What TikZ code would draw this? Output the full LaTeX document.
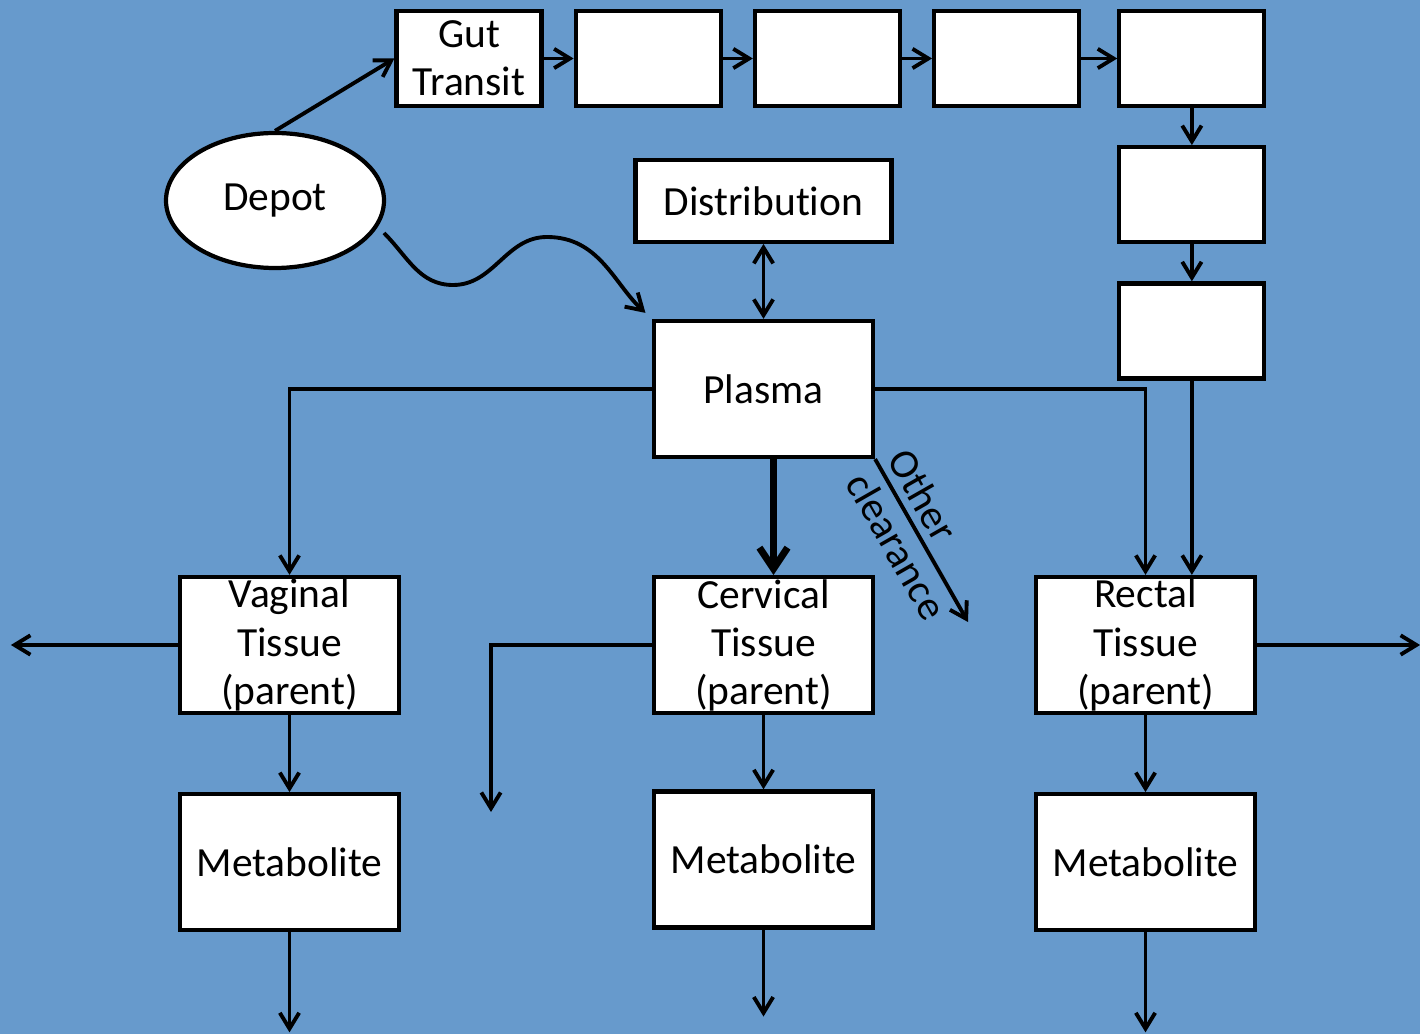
\documentclass[tikz,border=0pt]{standalone}
\usepackage{fontspec}
\setmainfont[Ligatures=NoCommon]{Carlito}
\usetikzlibrary{positioning,arrows.meta,shapes.geometric}
\definecolor{bgblue}{RGB}{103,154,204}

\begin{document}
\begin{tikzpicture}[line width=1.1pt, >={Straight Barb[length=4.5pt,width=5.5pt]},
  font=\fontsize{11.8}{13.7}\selectfont,
  box/.style = {draw, fill=white, line width=1.2pt, inner sep=0pt, align=center, minimum width=21.9mm, minimum height=13.6mm},
  small/.style = {box, minimum width=14.5mm, minimum height=9.5mm}]
\path[use as bounding box, fill=bgblue] (0,0) rectangle (14.2,-10.34);
\node[small] (gut) at (4.69,-0.585) {Gut\\Transit};
\node[small] (g2) [right=3mm of gut] {};
\node[small] (g3) [right=3mm of g2] {};
\node[small] (g4) [right=3mm of g3] {};
\node[small] (g5) [right=3.6mm of g4] {};
\node[small] (g6) [below=3.7mm of g5] {};
\node[small] (g7) [below=3.7mm of g6] {};
\node[draw, ellipse, fill=white, line width=1.2pt, inner sep=0pt, minimum width=21.8mm, minimum height=13.5mm] (depot) at (2.75,-2.005) {Depot};
\node[box] (plasma) at (7.635,-3.89) {Plasma};
\node[box, minimum width=25.6mm, minimum height=8.2mm] (dist) [above=7.5mm of plasma] {Distribution};
\node[box] (cervical) [below=11.6mm of plasma] {Cervical\\Tissue\\(parent)};
\node[box] (met2) [below=7.4mm of cervical] {Metabolite};
\node[box] (vaginal) at (2.895,-6.45) {Vaginal\\Tissue\\(parent)};
\node[box] (met1) [below=7.7mm of vaginal] {Metabolite};
\node[box] (rectal) at (11.455,-6.45) {Rectal\\Tissue\\(parent)};
\node[box] (met3) [below=7.7mm of rectal] {Metabolite};
\coordinate (wave) at (3.84,-2.33);
\coordinate (clear) at (9.68,-6.22);
\coordinate (cervout) at (4.91,-8.12);
\coordinate[left=16.7mm of vaginal] (vagout);
\coordinate[right=16.3mm of rectal] (rectout);
\coordinate[below=10mm of met1] (m1out);
\coordinate[below=8.7mm of met2] (m2out);
\coordinate[below=10mm of met3] (m3out);
\draw[->] (depot.north) -- (gut.west);
\draw[->] (gut) -- (g2);
\draw[->] (g2) -- (g3);
\draw[->] (g3) -- (g4);
\draw[->] (g4) -- (g5);
\draw[->] (g5) -- (g6);
\draw[->] (g6) -- (g7);
\draw[->] (g7) -- (g7 |- rectal.north);
\draw[->, shorten >=2.5pt] (wave) to[out=-45,in=180] (4.53,-2.85) to[out=0,in=180] (5.47,-2.37) to[out=0,in=137] (plasma.north west);
\draw[<->] (dist) -- (plasma);
\draw[->] (plasma) -| (vaginal);
\draw[->] (plasma) -| (rectal);
\draw[->, line width=2pt, >={Straight Barb[length=6pt,width=8pt]}] ([xshift=1mm]plasma.south) -- ([xshift=1mm]cervical.north);
\draw[->] (plasma.south east) -- (clear) node[pos=0.46, sloped, align=left] {Other\\clearance};
\draw[->] (vaginal) -- (vagout);
\draw[->] (cervical) -| (cervout);
\draw[->] (rectal) -- (rectout);
\draw[->] (vaginal) -- (met1);
\draw[->] (cervical) -- (met2);
\draw[->] (rectal) -- (met3);
\draw[->] (met1) -- (m1out);
\draw[->] (met2) -- (m2out);
\draw[->] (met3) -- (m3out);
\end{tikzpicture}
\end{document}
